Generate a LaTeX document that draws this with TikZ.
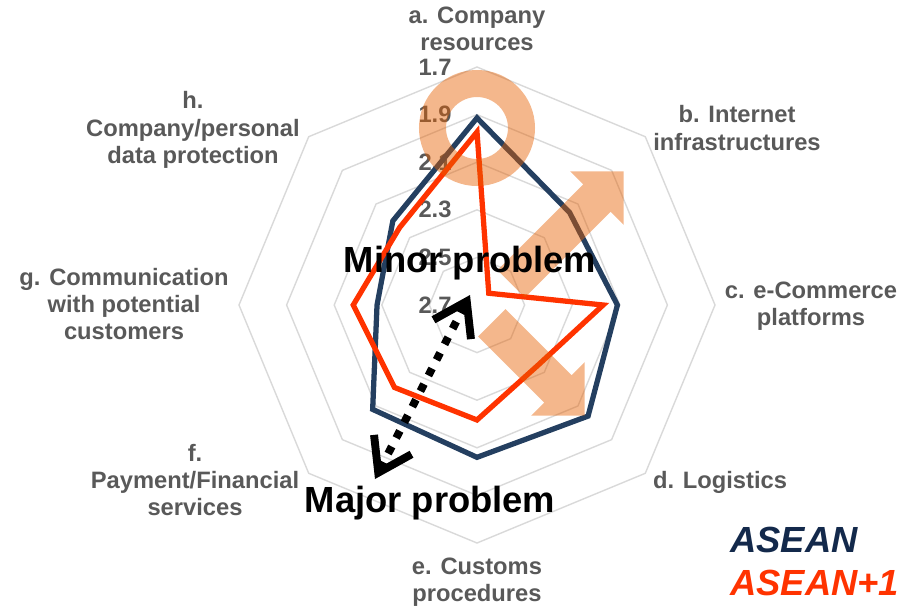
\documentclass[tikz,border=0pt]{standalone}
\usepackage{fontspec}
\setmainfont{Liberation Sans}
\usetikzlibrary{arrows.meta,shapes.arrows}
\definecolor{navyc}{HTML}{243F60}
\definecolor{redc}{HTML}{FF3300}
\definecolor{sand}{HTML}{E65F00}
\definecolor{gtext}{HTML}{595959}
\definecolor{gline}{HTML}{D9D9D9}
\definecolor{legnavy}{HTML}{13294B}
\tikzset{gr/.style  = {draw=gline, line width=0.8pt},
         vl/.style  = {text=gtext, font=\fontsize{13.5}{15.6}\selectfont\bfseries, inner sep=0pt},
         ax/.style  = {text=gtext, font=\fontsize{13.5}{15.6}\selectfont\bfseries, align=center, inner sep=0pt},
         ser/.style = {line width=3pt, line join=miter},
         hl/.style  = {fill=sand, opacity=0.45, single arrow, anchor=tail, inner xsep=0pt,
                       inner ysep=0.38cm, single arrow head extend=0.37cm},
         big/.style = {font=\fontsize{20.7}{24}\selectfont\bfseries, inner sep=0pt},
         lgd/.style = {font=\fontsize{20.7}{24}\selectfont\bfseries\itshape, inner sep=0pt, anchor=west}}

\begin{document}
\begin{tikzpicture}[x=0.02cm, y=0.02cm, >={Straight Barb[length=18pt, width=24pt]}]
    \useasboundingbox (-477,-305) rectangle (439,305);
    % octagon rings
    \foreach \k in {1,...,5}
        \draw[gr] (90:{47.6*\k}) \foreach \j in {1,...,7} { -- ({90-45*\j}:{47.6*\k}) } -- cycle;
    \foreach \k/\t in {0/2.7, 1/2.5, 2/2.3, 3/2.1, 4/1.9, 5/1.7}
        \node[vl] (v\k) at (-42,{47.6*\k}) {\t};

    % series
    \foreach \ax/\v [count=\i from 0] in {a/1.914, b/2.15, c/2.11, d/2.04, e/2.06, f/2.08, g/2.28, h/2.20}
        \coordinate (as-\ax) at ({90-45*\i}:{(2.7-\v)*238});
    \foreach \ax/\v [count=\i from 0] in {a/1.973, b/2.63, c/2.17, d/2.34, e/2.217, f/2.21, g/2.18, h/2.24}
        \coordinate (ap-\ax) at ({90-45*\i}:{(2.7-\v)*238});
    \draw[ser, navyc] (as-a) -- (as-b) -- (as-c) -- (as-d) -- (as-e) -- (as-f) -- (as-g) -- (as-h) -- cycle;
    \draw[ser, redc]  (ap-a) -- (ap-b) -- (ap-c) -- (ap-d) -- (ap-e) -- (ap-f) -- (ap-g) -- (ap-h) -- cycle;

    % highlights
    \draw[sand, opacity=0.45, line width=0.54cm] (0,177) circle (44.5);
    \node[hl, rotate=45,  minimum height=3.18cm] (up) at (34,21) {};
    \node[hl, rotate=-45, minimum height=2.63cm] (dn) at (14.5,-17.5) {};

    % minor / major
    \coordinate (maj) at (-102,-174);
    \coordinate (min) at (-7,10);
    \draw[<->, line width=4.5pt, dash pattern=on 4.5pt off 5.5pt] (maj) -- (min);
    \node[big] (minor) at (-7,42) {Minor problem};
    \node[big] (major) at (-47,-198) {Major problem};

    % axis labels
    \node[ax] (lab-a) at (0,276)     {a. Company\\resources};
    \node[ax] (lab-b) at (260,177)   {b. Internet\\infrastructures};
    \node[ax] (lab-c) at (334,-1)    {c. e-Commerce\\platforms};
    \node[ax] (lab-d) at (243,-177)  {d. Logistics};
    \node[ax] (lab-e) at (0,-277)    {e. Customs\\procedures};
    \node[ax] (lab-f) at (-282,-175) {f.\\Payment/Financial\\services};
    \node[ax] (lab-g) at (-353,1)    {g. Communication\\with potential\\customers};
    \node[ax] (lab-h) at (-284,175)  {h.\\Company/personal\\data protection};

    % legend
    \node[lgd, text=legnavy] (l1) at (253,-235) {ASEAN};
    \node[lgd, text=redc]    (l2) at (253,-278) {ASEAN+1};
\end{tikzpicture}
\end{document}
